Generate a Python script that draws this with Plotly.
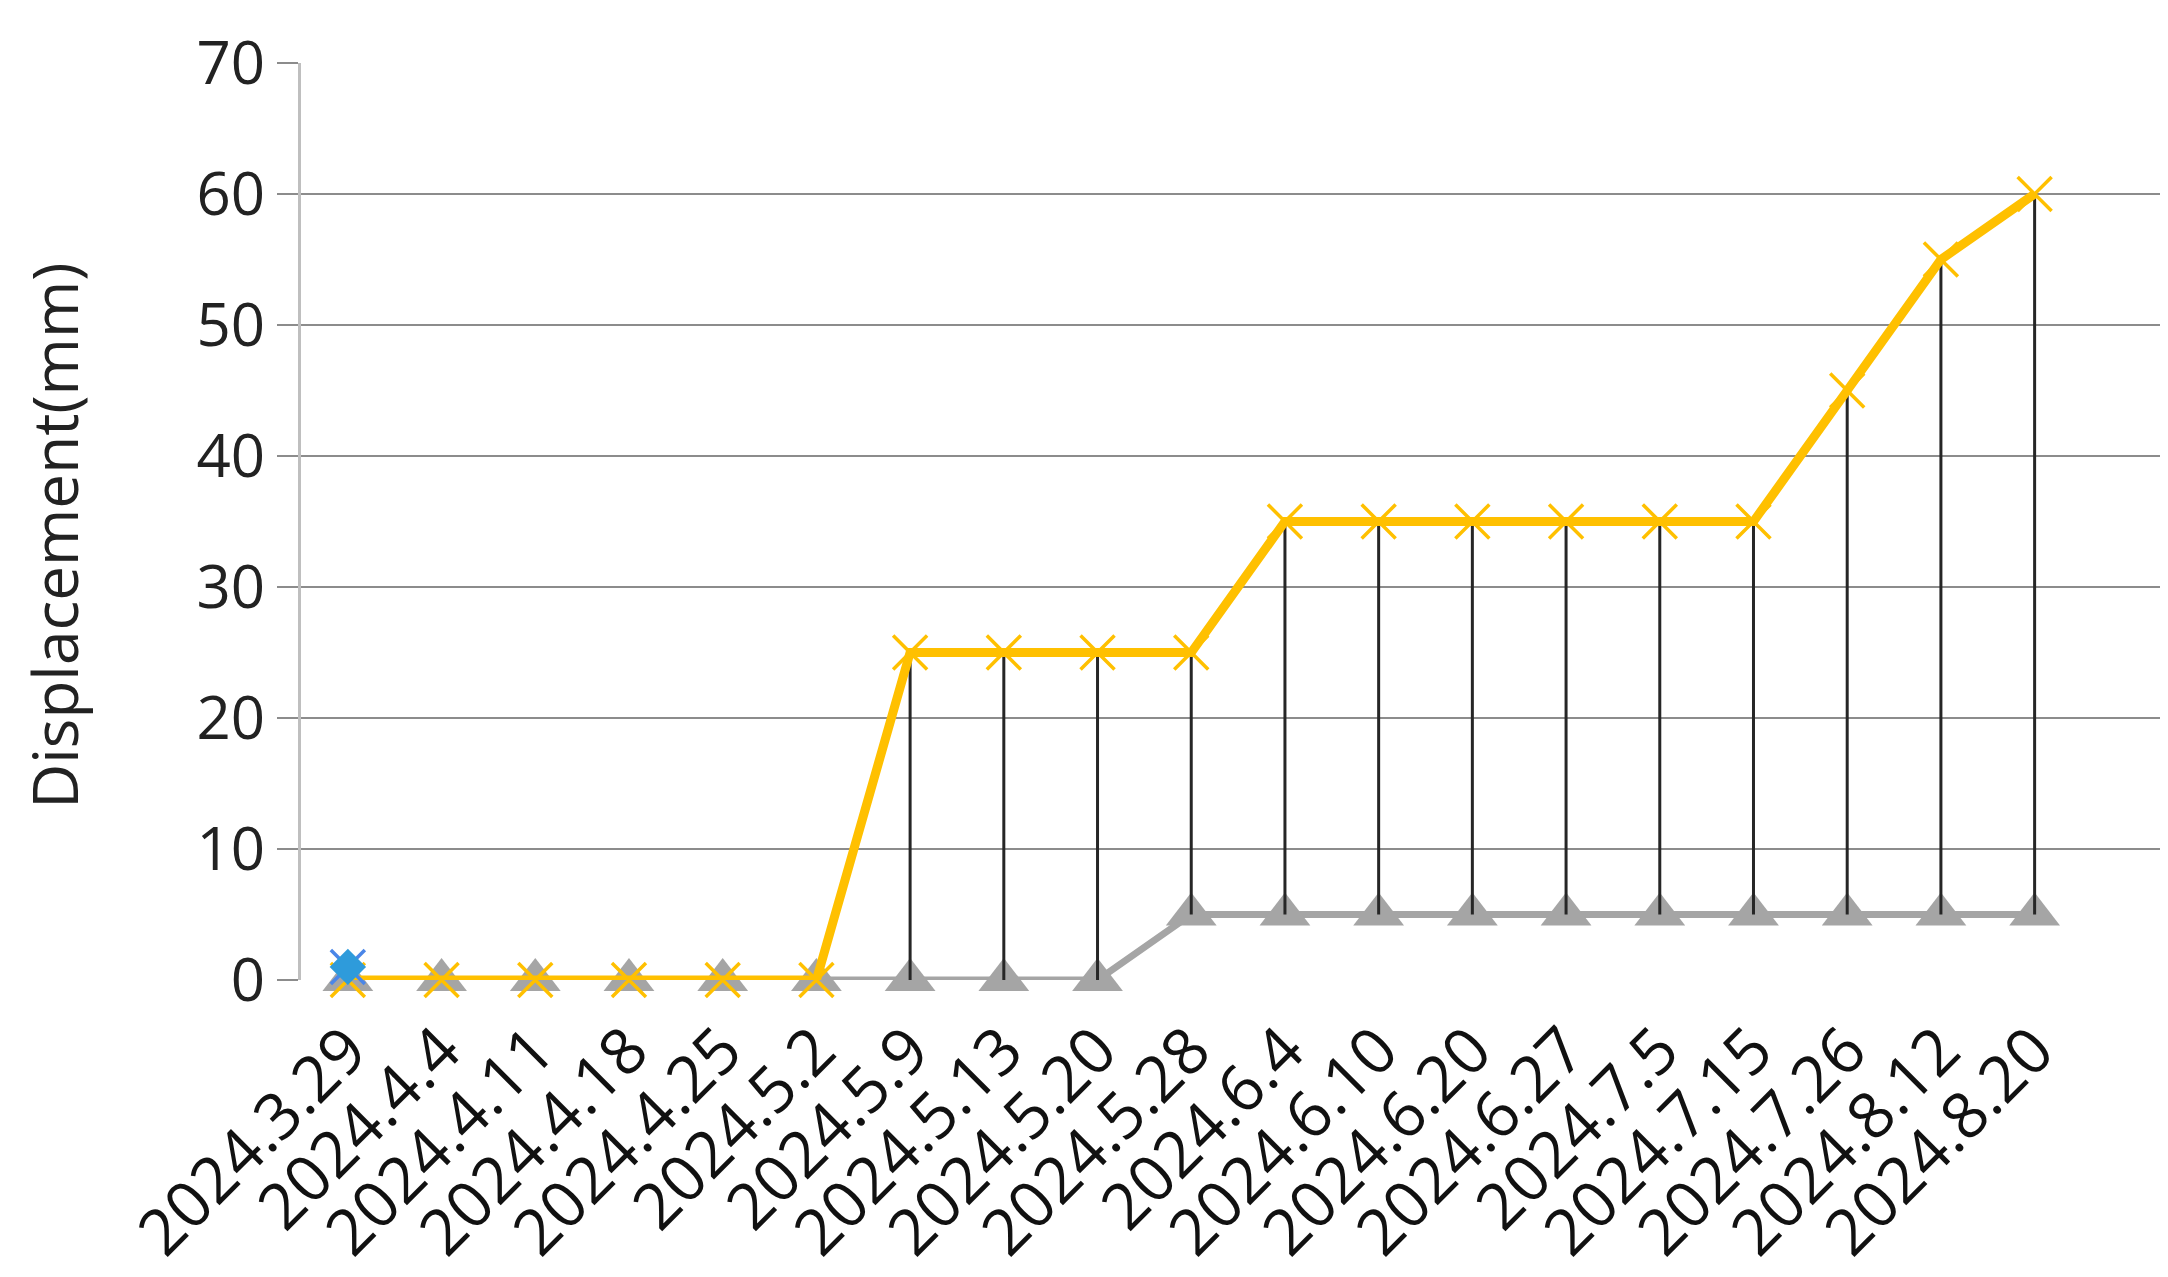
import plotly.graph_objects as go

# ---- data ----
dates = ["2024.3.29", "2024.4.4", "2024.4.11", "2024.4.18", "2024.4.25",
         "2024.5.2", "2024.5.9", "2024.5.13", "2024.5.20", "2024.5.28",
         "2024.6.4", "2024.6.10", "2024.6.20", "2024.6.27", "2024.7.5",
         "2024.7.15", "2024.7.26", "2024.8.12", "2024.8.20"]
upper = [0, 0, 0, 0, 0, 0, 25, 25, 25, 25, 35, 35, 35, 35, 35, 35, 45, 55, 60]
lower = [0, 0, 0, 0, 0, 0, 0, 0, 0, 5, 5, 5, 5, 5, 5, 5, 5, 5, 5]
start_pt = [1] + [None] * (len(dates) - 1)
y_ticks = [0, 10, 20, 30, 40, 50, 60, 70]

FONT = "Open Sans, Noto Sans, sans-serif"

# high-low connectors (Excel style), one segment per category
hl_x, hl_y = [], []
for i, d in enumerate(dates):
    vals = [v for v in (upper[i], lower[i], start_pt[i]) if v is not None]
    if max(vals) > min(vals):
        hl_x += [d, d, None]
        hl_y += [min(vals), max(vals), None]

fig = go.Figure()

fig.add_trace(go.Scatter(
    x=dates, y=lower, mode="lines+markers", cliponaxis=False,
    line=dict(color="#A5A5A5", width=7),
    marker=dict(symbol="triangle-up", size=44, color="#A5A5A5"),
))
fig.add_trace(go.Scatter(
    x=hl_x, y=hl_y, mode="lines", cliponaxis=False,
    line=dict(color="#262626", width=3),
))
fig.add_trace(go.Scatter(
    x=dates, y=upper, mode="lines+markers", cliponaxis=False,
    line=dict(color="#FFC000", width=9),
    marker=dict(symbol="x-thin", size=34,
                line=dict(color="#FFC000", width=3.5)),
))
fig.add_trace(go.Scatter(
    x=dates, y=start_pt, mode="markers", cliponaxis=False,
    marker=dict(symbol="x-thin", size=34,
                line=dict(color="#4A86E8", width=3.5)),
))
fig.add_trace(go.Scatter(
    x=dates, y=start_pt, mode="markers", cliponaxis=False,
    marker=dict(symbol="diamond", size=28, color="#2E9BDB",
                line=dict(width=0)),
))

fig.update_layout(
    width=2168, height=1277,
    paper_bgcolor="white", plot_bgcolor="white",
    showlegend=False,
    margin=dict(l=293, r=13, t=44, b=302),
    font=dict(family=FONT, color="#1a1a1a"),
    xaxis=dict(
        type="category", categoryarray=dates,
        range=[-0.5, 19.37],
        tickangle=-45, tickfont=dict(size=64, family=FONT, color="#111"),
        showgrid=False, zeroline=False, showline=False,
        ticks="outside", ticklen=6, tickcolor="rgba(0,0,0,0)",
    ),
    yaxis=dict(
        range=[0, 70], tickvals=y_ticks,
        tickfont=dict(size=60, family=FONT, color="#222"),
        showgrid=True, gridcolor="#8C8C8C", gridwidth=2,
        zeroline=False,
        showline=True, linecolor="#BFBFBF", linewidth=3,
        ticks="outside", ticklen=21, tickcolor="#8C8C8C", tickwidth=2,
    ),
    annotations=[dict(
        text="Displacement(mm)", textangle=-90,
        xref="paper", yref="paper",
        x=(46 - 293) / 1862, y=(975 - 524) / 931,
        xanchor="center", yanchor="middle", showarrow=False,
        font=dict(size=62, family=FONT, color="#222"),
    )],
)

fig.write_html("out.html")
